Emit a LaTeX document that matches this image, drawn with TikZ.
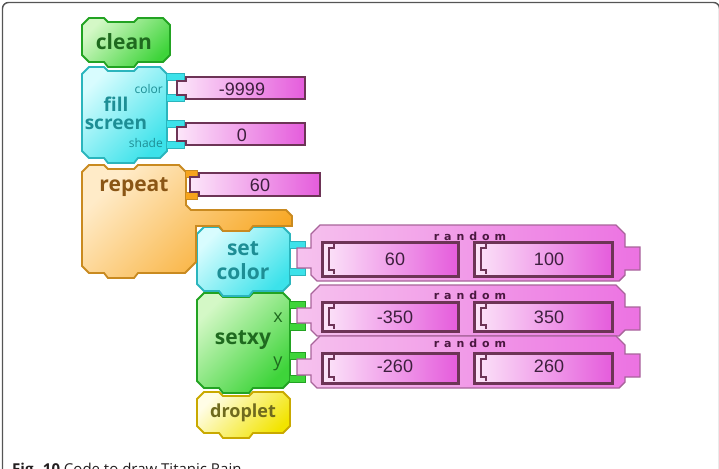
\documentclass[tikz,border=0pt]{standalone}
\usepackage{fontspec}
\setmainfont{Open Sans}
\newfontfamily\valfont{Liberation Sans}
\newfontfamily\rndfont[LetterSpace=45]{DejaVu Sans}
\definecolor{greenL}{HTML}{D4F8C6}
\definecolor{greenD}{HTML}{3ED43A}
\definecolor{greenB}{HTML}{22A322}
\definecolor{greenT}{HTML}{1F6A1F}
\definecolor{cyanL}{HTML}{D8FCFE}
\definecolor{cyanD}{HTML}{3CE2EA}
\definecolor{cyanB}{HTML}{2BB5BD}
\definecolor{cyanT}{HTML}{1E8E95}
\definecolor{orL}{HTML}{FFEBC8}
\definecolor{orD}{HTML}{F7A41C}
\definecolor{orB}{HTML}{C98A20}
\definecolor{orT}{HTML}{8A5616}
\definecolor{yelL}{HTML}{FFFDE6}
\definecolor{yelD}{HTML}{F2E400}
\definecolor{yelB}{HTML}{C9A900}
\definecolor{yelT}{HTML}{6F6A1E}
\definecolor{pkL}{HTML}{FCE6F9}
\definecolor{pkD}{HTML}{E55CDC}
\definecolor{pkB}{HTML}{6D3456}
\definecolor{pkT}{HTML}{3D1F3D}
\definecolor{rnL}{HTML}{F6C2EE}
\definecolor{rnD}{HTML}{EC72E2}
\definecolor{rnB}{HTML}{A8649A}
\definecolor{rnT}{HTML}{4A1840}
\definecolor{frameC}{HTML}{555555}
\definecolor{capC}{HTML}{231F20}
\tikzset{
  blkgreen/.style={draw=greenB, line width=1.8, top color=greenL, bottom color=greenD, shading angle=45},
  blkcyan/.style={draw=cyanB, line width=1.8, top color=cyanL, bottom color=cyanD, shading angle=45},
  blkorange/.style={draw=orB, line width=1.8, top color=orL, bottom color=orD, shading angle=45},
  blkyellow/.style={draw=yelB, line width=1.8, top color=yelL, bottom color=yelD, shading angle=45},
  hookcyan/.style={draw=cyanB, line width=1, fill=cyanD},
  hookgreen/.style={draw=greenB, line width=1, fill=greenD},
  hookorange/.style={draw=orB, line width=1, fill=orD},
  valstyle/.style={draw=pkB, line width=1.6, left color=pkL, right color=pkD},
  rndstyle/.style={draw=rnB, line width=1.4, left color=rnL, right color=rnD},
  slotframe/.style={draw=pkB, line width=3, left color=pkL, right color=pkD},
  blklabel/.style={inner sep=0, font=\bfseries\fontsize{21}{21}\selectfont},
  smalllabel/.style={inner sep=0, font=\fontsize{12}{12}\selectfont, text=cyanT},
  valtext/.style={inner sep=0, text=pkT, font=\valfont\fontsize{18}{18}\selectfont},
  rndtext/.style={inner sep=0, text=rnT, font=\rndfont\bfseries\fontsize{11}{11}\selectfont},
}
% block body: style, x1, y1, x2, y2
\newcommand\blockshape[5]{%
  \draw[#1] (#2,{#3+7}) -- ({#2+7},#3) -- ({#2+22},#3) -- ({#2+26},{#3+4}) -- ({#2+52},{#3+4}) -- ({#2+56},#3) -- ({#4-7},#3) -- (#4,{#3+7}) -- (#4,{#5-7}) -- ({#4-7},#5) -- ({#2+56},#5) -- ({#2+52},{#5+5}) -- ({#2+26},{#5+5}) -- ({#2+22},#5) -- ({#2+7},#5) -- (#2,{#5-7}) -- cycle;}
% value bar: hookstyle, x1, y1, x2, y2 (plug to the left of x1), hook left x
\newcommand\valbar[6]{%
  \draw[#1] (#6,{#3-3}) rectangle ({#2-2},{#3+4});
  \draw[#1] (#6,{#5-4}) rectangle ({#2-2},{#5+3});
  \draw[valstyle] (#2,#3) -- (#4,#3) -- (#4,#5) -- (#2,#5) -- (#2,{#5-4}) -- ({#2-9},{#5-4}) -- ({#2-9},{#3+4}) -- (#2,{#3+4}) -- cycle;}
% slot inside a random block: x1, y1, x2, y2
\newcommand\slot[4]{%
  \draw[slotframe] (#1,#2) rectangle (#3,#4);
  \draw[pkB, line width=1.2] ({#1+12},{#2+2}) -- ({#1+12},{#2+6}) -- ({#1+7},{#2+6}) -- ({#1+7},{#4-6}) -- ({#1+12},{#4-6}) -- ({#1+12},{#4-2});}
% random block: hookstyle, y1, y2, tab y
\newcommand\rndblock[4]{%
  \draw[#1] (289,{#2+16}) rectangle (305,{#2+23});
  \draw[#1] (289,{#3-13}) rectangle (305,{#3-6});
  \draw[rndstyle] (311,{#2+9}) -- (320,#2) -- (616,#2) -- (625,{#2+9}) -- (625,#4) -- (640,#4) -- (640,{#4+23}) -- (625,{#4+23}) -- (625,{#3-6}) -- (619,#3) -- (317,#3) -- (311,{#3-6}) -- (311,{#3-13}) -- (297,{#3-13}) -- (297,{#2+23}) -- (311,{#2+23}) -- cycle;
  \slot{322}{#2+17}{458}{#3-5}
  \slot{474}{#2+17}{612}{#3-5}}
\begin{document}
\begin{tikzpicture}[x=1pt,y=-1pt]
\useasboundingbox (0,0) rectangle (719,468);
\clip (0,0) rectangle (719,468);
\draw[frameC, line width=1.4, rounded corners=6] (2.5,480) -- (2.5,2.5) -- (719.5,2.5) -- (719.5,480);

% blocks, drawn bottom-up
\blockshape{blkyellow}{197}{392}{290}{433}
\blockshape{blkgreen}{197}{293}{290}{388}
\blockshape{blkcyan}{197}{227}{290}{291}
\draw[blkorange] (82,172) -- (89,165) -- (104,165) -- (108,169) -- (134,169) -- (138,165) -- (179,165) -- (186,172) -- (186,205) -- (191,210) -- (286,210) -- (292,216) -- (292,226) -- (253,226) -- (249,231) -- (223,231) -- (219,226) -- (196,226) -- (196,262) -- (185,273) -- (138,273) -- (134,278) -- (108,278) -- (104,273) -- (89,273) -- (82,266) -- cycle;
\blockshape{blkcyan}{82}{67}{167}{158}
\blockshape{blkgreen}{82}{18}{170}{62}

% values
\valbar{hookcyan}{186}{77}{305}{99}{166}
\valbar{hookcyan}{186}{123}{305}{145}{166}
\valbar{hookorange}{199}{173}{320}{196}{185}

% random blocks
\rndblock{hookcyan}{225}{281}{247}
\rndblock{hookgreen}{285}{336}{307}
\rndblock{hookgreen}{336}{388}{354}

% labels
\node[blklabel, text=greenT] (clean) at (124,42) {clean};
\node[smalllabel, anchor=east] (fscolor) at (163,89) {color};
\node[blklabel, text=cyanT, font=\bfseries\fontsize{19}{19}\selectfont] (fill) at (116,104) {fill};
\node[blklabel, text=cyanT, font=\bfseries\fontsize{19}{19}\selectfont] (screen) at (116,124) {screen};
\node[smalllabel, anchor=east] (fsshade) at (163,143) {shade};
\node[blklabel, text=orT] (repeat) at (134,187) {repeat};
\node[blklabel, text=cyanT] (set) at (243,249) {set};
\node[blklabel, text=cyanT] (color) at (243,272) {color};
\node[blklabel, text=greenT] (setxy) at (243,340) {setxy};
\node[blklabel, text=greenT, font=\fontsize{18}{18}\selectfont] (xlbl) at (278,318) {x};
\node[blklabel, text=greenT, font=\fontsize{18}{18}\selectfont] (ylbl) at (278,364) {y};
\node[blklabel, text=yelT, font=\bfseries\fontsize{18}{18}\selectfont] (droplet) at (243,413) {droplet};

\node[valtext] (v1) at (242,89) {-9999};
\node[valtext] (v2) at (242,135) {0};
\node[valtext] (v3) at (260,185) {60};

\node[rndtext] (r1) at (470,236) {random};
\node[rndtext] (r2) at (470,295) {random};
\node[rndtext] (r3) at (470,343) {random};
\node[valtext] (a1) at (395,259) {60};
\node[valtext] (b1) at (549,259) {100};
\node[valtext] (a2) at (395,317) {-350};
\node[valtext] (b2) at (549,317) {350};
\node[valtext] (a3) at (395,366) {-260};
\node[valtext] (b3) at (549,366) {260};

\node[anchor=base west, inner sep=0, text=capC, font=\fontsize{15}{16}\selectfont] (cap) at (12,474) {\textbf{Fig. 10} Code to draw Titanic Rain};
\end{tikzpicture}
\end{document}
